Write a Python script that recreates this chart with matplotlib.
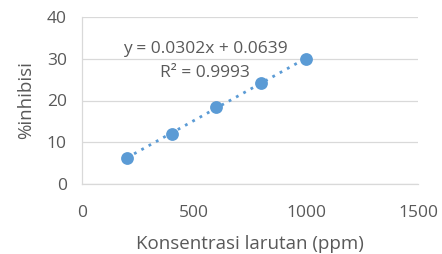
import matplotlib
matplotlib.use('Agg')
import matplotlib.pyplot as plt
import numpy as np

konsentrasi = [200, 400, 600, 800, 1000]
inhibisi = [6.3, 12.0, 18.4, 24.25, 30.0]
x_ticks = [0, 500, 1000, 1500]
y_ticks = [0, 10, 20, 30, 40]

plt.rcParams['font.family'] = ['Open Sans', 'DejaVu Sans']
text_color = '#595959'
blue = '#5b9bd5'

fig = plt.figure(figsize=(4.42, 2.54), dpi=100)
ax = fig.add_axes([82 / 442, 1 - 184 / 254, (418 - 82) / 442, (184 - 17) / 254])

# linear trendline
slope, intercept = np.polyfit(konsentrasi, inhibisi, 1)
xs = np.array([konsentrasi[0], konsentrasi[-1]])
ax.plot(xs, slope * xs + intercept, linestyle=(0, (1, 2.0)), color=blue, lw=2.0, zorder=2)
ax.scatter(konsentrasi, inhibisi, s=85, color=blue, zorder=3, linewidths=0)

ax.set_xlim(0, 1500)
ax.set_ylim(0, 40)
ax.set_xticks(x_ticks)
ax.set_yticks(y_ticks)
ax.grid(axis='y', color='#d9d9d9', lw=0.9)
ax.set_axisbelow(True)
for side in ['top', 'right']:
    ax.spines[side].set_visible(False)
for side in ['left', 'bottom']:
    ax.spines[side].set_color('#d9d9d9')
    ax.spines[side].set_linewidth(0.9)
ax.tick_params(length=0, labelsize=12.5, colors=text_color)
ax.tick_params(axis='x', pad=15)
ax.tick_params(axis='y', pad=11)

ax.set_xlabel('Konsentrasi larutan (ppm)', fontsize=13.5, color=text_color, labelpad=10)
ax.set_ylabel('%inhibisi', fontsize=13.5, color=text_color, labelpad=8)

ax.text(205 / 442, 1 - 49 / 254, 'y = 0.0302x + 0.0639', transform=fig.transFigure,
        ha='center', va='center', fontsize=12.5, color=text_color)
ax.text(205 / 442, 1 - 73 / 254, 'R² = 0.9993', transform=fig.transFigure,
        ha='center', va='center', fontsize=12.5, color=text_color)

fig.savefig('out.png', dpi=100)
